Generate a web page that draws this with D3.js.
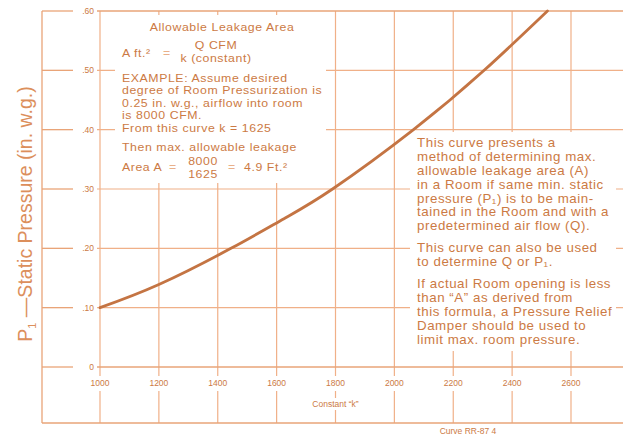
<!DOCTYPE html>
<html>
<head>
<meta charset="utf-8">
<script src="https://cdn.jsdelivr.net/npm/d3@7/dist/d3.min.js"></script>
<style>
  html, body { margin: 0; padding: 0; background: #fff; }
  svg { display: block; font-family: "Liberation Sans", Arial, sans-serif; }
</style>
</head>
<body>
<svg id="chart" width="623" height="438"></svg>
<script>
// Constant "k" versus room static pressure P1 (in. w.g.)
const kValues        = [1000, 1200, 1445, 1625, 1790, 2065, 2305, 2520];
const pressureValues = [0.10, 0.139, 0.20, 0.25, 0.30, 0.40, 0.50, 0.60];

const xTicks      = [1000, 1200, 1400, 1600, 1800, 2000, 2200, 2400, 2600];
const xTickLabels = ["1000", "1200", "1400", "1600", "1800", "2000", "2200", "2400", "2600"];
const yTicks      = [0, 0.1, 0.2, 0.3, 0.4, 0.5, 0.6];
const yTickLabels = ["0", ".10", ".20", ".30", ".40", ".50", ".60"];

const formulaLines = [
  "EXAMPLE: Assume desired",
  "degree of Room Pressurization is",
  "0.25 in. w.g., airflow into room",
  "is 8000 CFM.",
  "From this curve k = 1625"
];
const noteParagraphs = [
  ["This curve presents a", "method of determining max.", "allowable leakage area (A)",
   "in a Room if same min. static", "pressure (P\u2081) is to be main-",
   "tained in the Room and with a", "predetermined air flow (Q)."],
  ["This curve can also be used", "to determine Q or P\u2081."],
  ["If actual Room opening is less", "than \u201CA\u201D as derived from",
   "this formula, a Pressure Relief", "Damper should be used to", "limit max. room pressure."]
];

const W = 623, H = 438;
const gridColor = "#f0b088";
const frameColor = "#e9a478";
const textColor = "#cc7a44";
const curveColor = "#c47443";

const svg = d3.select("#chart");
const x = d3.scaleLinear().domain([1000, 2600]).range([100, 571]);
const y = d3.scaleLinear().domain([0, 0.6]).range([367, 11]);

const frameLeft = 42, tickStubEnd = 73, bottomY = 423;

// vertical grid lines (interrupted where the tick labels sit)
const vg = svg.append("g");
xTicks.forEach(v => {
  vg.append("line").attr("x1", x(v)).attr("x2", x(v))
    .attr("y1", y(0.6)).attr("y2", 376)
    .attr("stroke", gridColor).attr("stroke-width", 1.2);
  vg.append("line").attr("x1", x(v)).attr("x2", x(v))
    .attr("y1", 391).attr("y2", bottomY)
    .attr("stroke", gridColor).attr("stroke-width", 1.2);
});

// horizontal grid lines with short stubs left of the labels
const hg = svg.append("g");
yTicks.forEach(v => {
  const major = (v === 0 || v === 0.6);
  hg.append("line").attr("x1", frameLeft).attr("x2", tickStubEnd)
    .attr("y1", y(v)).attr("y2", y(v))
    .attr("stroke", frameColor).attr("stroke-width", 1.3);
  hg.append("line").attr("x1", x(1000) - 3).attr("x2", W)
    .attr("y1", y(v)).attr("y2", y(v))
    .attr("stroke", major ? frameColor : gridColor).attr("stroke-width", major ? 1.6 : 1.2);
});

// outer frame lines
svg.append("line").attr("x1", frameLeft).attr("x2", frameLeft)
  .attr("y1", y(0.6)).attr("y2", bottomY)
  .attr("stroke", frameColor).attr("stroke-width", 1.3);
svg.append("line").attr("x1", frameLeft).attr("x2", W)
  .attr("y1", bottomY).attr("y2", bottomY)
  .attr("stroke", frameColor).attr("stroke-width", 1.3);

// y tick labels
svg.append("g").selectAll("text").data(yTicks).join("text")
  .attr("x", 94).attr("y", d => y(d) + 3)
  .attr("text-anchor", "end").attr("font-size", 8.5)
  .attr("fill", textColor)
  .text((d, i) => yTickLabels[i]);

// x tick labels
svg.append("g").selectAll("text").data(xTicks).join("text")
  .attr("x", d => x(d)).attr("y", 386)
  .attr("text-anchor", "middle").attr("font-size", 8.5)
  .attr("fill", textColor)
  .text((d, i) => xTickLabels[i]);

// x axis title on a white patch
const xbg = svg.append("rect").attr("fill", "#fff");
const xt = svg.append("text").attr("x", x(1800)).attr("y", 407)
  .attr("text-anchor", "middle").attr("font-size", 8.5).attr("fill", textColor)
  .text("Constant \u201Ck\u201D");
const xb = xt.node().getBBox();
xbg.attr("x", xb.x - 2).attr("y", xb.y - 1)
  .attr("width", xb.width + 4).attr("height", xb.height + 2);

svg.append("text").attr("x", 468).attr("y", 434)
  .attr("text-anchor", "middle").attr("font-size", 8.5).attr("fill", textColor)
  .text("Curve RR-87 4");

// y axis title
const yTitle = svg.append("text")
  .attr("transform", "translate(32,214) rotate(-90)")
  .attr("text-anchor", "middle").attr("font-size", 19.5)
  .attr("fill", "#dc8f5c").attr("font-weight", 300);
yTitle.append("tspan").text("P");
yTitle.append("tspan").attr("font-size", 11).attr("dy", 4).text("1");
yTitle.append("tspan").attr("dy", -4).text(" \u2014Static Pressure (in. w.g.)");

// white panels for the explanatory text
svg.append("rect").attr("x", 115).attr("y", 15).attr("width", 211).attr("height", 168).attr("fill", "#fff");
svg.append("rect").attr("x", 410).attr("y", 132).attr("width", 206).attr("height", 219).attr("fill", "#fff");

// wide-set lettering: panels are drawn in a horizontally stretched frame
function panel(x0, stretch, size, spacing) {
  const g = svg.append("g")
    .attr("transform", `translate(${x0},0) scale(${stretch},1)`)
    .attr("fill", textColor).attr("font-size", size).attr("letter-spacing", spacing);
  const px = X => (X - x0) / stretch;
  return { g, px };
}

// left panel: formula and worked example
const L = panel(122, 1.14, 10.8, 0.5);
const addL = (X, Y, s, anchor, fill) => L.g.append("text")
  .attr("x", L.px(X)).attr("y", Y)
  .attr("text-anchor", anchor || "start")
  .attr("fill", fill || null).text(s);
addL(222, 31, "Allowable Leakage Area", "middle");
addL(122, 57, "A ft.\u00B2");
addL(167, 57, "=", "middle", "#e9b08a");
addL(216, 49, "Q CFM", "middle");
addL(216, 62, "k (constant)", "middle");
formulaLines.forEach((s, i) => addL(122, 82 + i * 12.4, s));
addL(122, 151, "Then max. allowable leakage");
addL(122, 171, "Area A");
addL(173, 171, "=", "middle", "#e9b08a");
addL(203, 165, "8000", "middle");
addL(203, 178, "1625", "middle");
addL(232, 171, "=", "middle", "#e9b08a");
addL(244, 171, "4.9 Ft.\u00B2");

// right panel: notes on using the curve
const R = panel(417, 1.11, 12, 0.5);
const paraStarts = [147, 252, 288];
noteParagraphs.forEach((para, p) => {
  para.forEach((s, i) => {
    R.g.append("text").attr("x", 0).attr("y", paraStarts[p] + i * 13.9).text(s);
  });
});

// the curve
const line = d3.line().x(d => x(d[0])).y(d => y(d[1])).curve(d3.curveNatural);
svg.append("path")
  .datum(kValues.map((k, i) => [k, pressureValues[i]]))
  .attr("d", line)
  .attr("fill", "none").attr("stroke", curveColor)
  .attr("stroke-width", 2.8).attr("stroke-linecap", "round");
</script>
</body>
</html>
